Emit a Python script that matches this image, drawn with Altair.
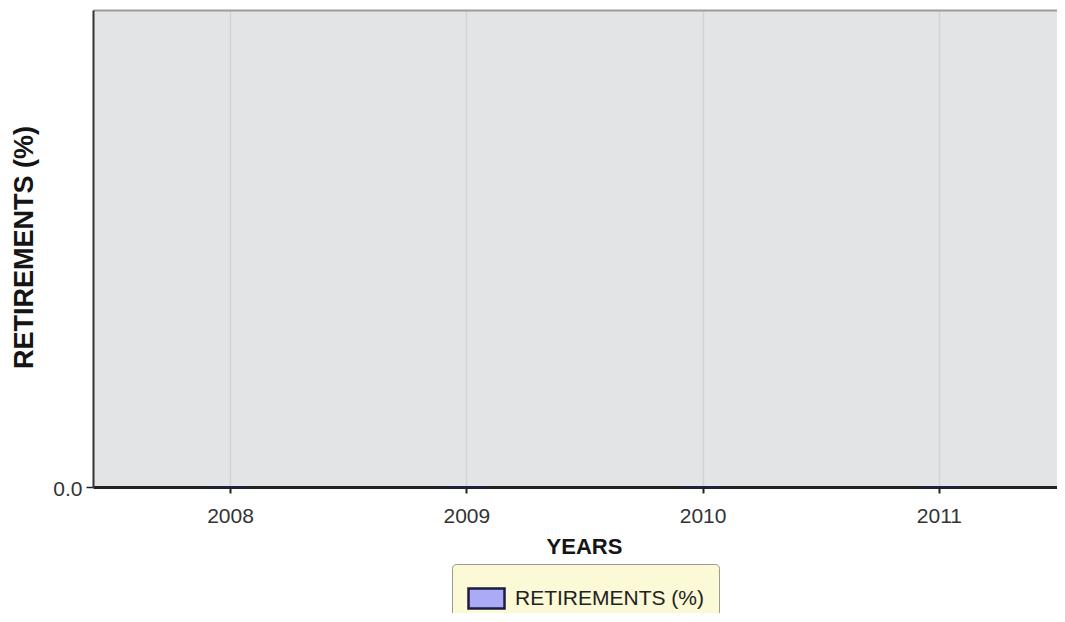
import altair as alt
import pandas as pd

# ---- data ----
years = [2008, 2009, 2010, 2011]
retirements = [0.0, 0.0, 0.0, 0.0]
series_name = "RETIREMENTS (%)"
x_ticks = [2008, 2009, 2010, 2011]
y_ticks = [0.0]

df = pd.DataFrame({
    "year": years,
    "value": retirements,
    "series": [series_name] * len(years),
})

FONT = "Liberation Sans"

xscale = alt.Scale(domain=[2007.42, 2011.5], nice=False, zero=False, padding=0)
yscale = alt.Scale(domain=[0, 1], nice=False, padding=0)

bars = alt.Chart(df).mark_bar(size=40, stroke="#20204a", strokeWidth=1).encode(
    x=alt.X(
        "year:Q",
        scale=xscale,
        axis=alt.Axis(
            title="YEARS",
            titleFont=FONT,
            titleFontSize=22,
            titleFontWeight="bold",
            titleColor="#151515",
            titleX=491,
            titleY=66,
            titleAlign="center",
            titleBaseline="alphabetic",
            values=x_ticks,
            format="d",
            labelFont=FONT,
            labelFontSize=21,
            labelColor="#333333",
            labelBaseline="alphabetic",
            labelPadding=29,
            labelFlush=False,
            tickSize=6,
            tickColor="#222222",
            tickWidth=2,
            domainColor="#222222",
            domainWidth=3,
            grid=True,
            gridColor="#d2d3d5",
            gridWidth=1.5,
        ),
    ),
    y=alt.Y(
        "value:Q",
        scale=yscale,
        axis=alt.Axis(
            title=series_name,
            titleFont=FONT,
            titleFontSize=27,
            titleFontWeight="bold",
            titleColor="#151515",
            titleX=-61,
            titleY=237,
            titleAlign="center",
            titleBaseline="alphabetic",
            values=y_ticks,
            format=".1f",
            labelFont=FONT,
            labelFontSize=21,
            labelColor="#333333",
            labelPadding=4,
            labelOffset=2,
            tickSize=7,
            tickColor="#222222",
            tickWidth=1.5,
            domainColor="#333333",
            domainWidth=2,
            grid=False,
        ),
    ),
    color=alt.Color(
        "series:N",
        scale=alt.Scale(domain=[series_name], range=["#aaaaf6"]),
        legend=alt.Legend(
            title="",
            orient="none",
            legendX=359,
            legendY=554,
            fillColor="#fbf9d6",
            strokeColor="#9c9c8c",
            cornerRadius=4,
            padding=15,
            labelFont=FONT,
            labelFontSize=21,
            labelColor="#222222",
            labelOffset=9,
            labelLimit=400,
            symbolType="M-1,-0.56L1,-0.56L1,0.56L-1,0.56Z",
            symbolSize=1296,
            symbolStrokeColor="#1c1c40",
            symbolStrokeWidth=2.5,
            symbolOpacity=1,
        ),
    ),
)

top_border = alt.Chart(df).mark_point(opacity=0).encode(
    x=alt.X(
        "year:Q",
        scale=xscale,
        axis=alt.Axis(
            orient="top",
            title="",
            labels=False,
            ticks=False,
            grid=False,
            domainColor="#9c9c9c",
            domainWidth=2,
        ),
    ),
)

chart = (
    alt.layer(bars, top_border)
    .resolve_axis(x="independent")
    .properties(
        width=964,
        height=477,
        autosize=alt.AutoSizeParams(type="none"),
        padding={"left": 85, "top": 2, "right": 0, "bottom": 126},
        view=alt.ViewBackground(fill="#e3e4e6", stroke="transparent"),
    )
    .configure_view(fill="#e3e4e6", stroke="transparent")
    .configure(font=FONT, background="white")
)

chart.save("out.html", embed_options={"renderer": "svg", "actions": False})
